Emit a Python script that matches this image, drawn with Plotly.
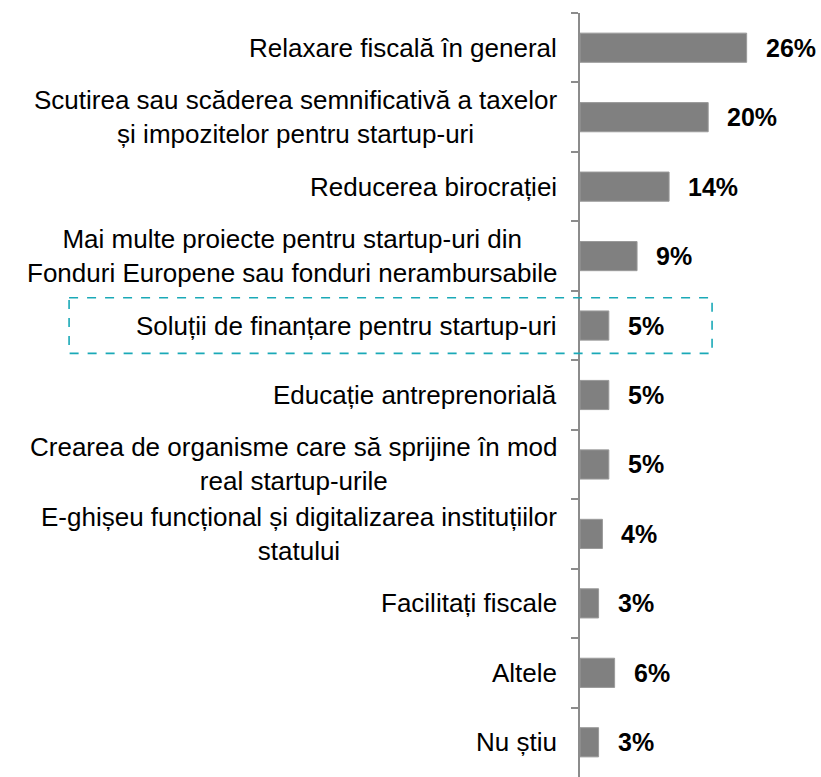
import plotly.graph_objects as go

#===========================================================================================================#

categories = [
    "Relaxare fiscală în general",
    "Scutirea sau scăderea semnificativă a taxelor<br>și impozitelor pentru startup-uri",
    "Reducerea birocrației",
    "Mai multe proiecte pentru startup-uri din<br>Fonduri Europene sau fonduri nerambursabile",
    "Soluții de finanțare pentru startup-uri",
    "Educație antreprenorială",
    "Crearea de organisme care să sprijine în mod<br>real startup-urile",
    "E-ghișeu funcțional și digitalizarea instituțiilor<br>statului",
    "Facilitați fiscale",
    "Altele",
    "Nu știu",
]
values = [26.0, 20.0, 13.9, 8.9, 4.5, 4.5, 4.5, 3.5, 2.9, 5.4, 2.9]
value_labels = ["26%", "20%", "14%", "9%", "5%", "5%", "5%", "4%", "3%", "6%", "3%"]
highlight = "Soluții de finanțare pentru startup-uri"

#===========================================================================================================#

keys = [c.replace("<br>", " ") for c in categories]

fig = go.Figure(go.Bar(x=values, y=keys, orientation='h',
                       marker=dict(color='#808080', line=dict(color='#9a9a9a', width=1))))

# category labels, centred lines, right edge next to the axis
for k, c in zip(keys, categories):
    fig.add_annotation(x=0, xref='paper', y=k, yref='y', text=c, showarrow=False,
                       xanchor='right', align='center', xshift=-21,
                       font=dict(family='Arial, Liberation Sans', size=26, color='#000000'))

# value labels
for k, v, t in zip(keys, values, value_labels):
    fig.add_annotation(x=v, xref='x', y=k, yref='y', text='<b>' + t + '</b>', showarrow=False,
                       xanchor='left', xshift=17,
                       font=dict(family='Arial, Liberation Sans', size=25, color='#000000'))

# dashed box round the highlighted row
hi = keys.index(highlight)
fig.add_shape(type='rect', xref='paper', yref='y', x0=-2.12, x1=0.548, y0=hi - 0.4, y1=hi + 0.4,
              line=dict(color='#1aa9b7', width=1.6, dash='dash'), fillcolor='rgba(0,0,0,0)')

fig.update_layout(width=821, height=777, margin=dict(l=580, r=0, t=13, b=0),
                  plot_bgcolor='white', paper_bgcolor='white', showlegend=False, bargap=0.58,
                  xaxis=dict(range=[0, 37.6], visible=False),
                  yaxis=dict(autorange='reversed', categoryorder='array', categoryarray=keys,
                             showticklabels=False, showgrid=False, zeroline=False,
                             showline=True, linecolor='#8c8c8c', linewidth=1.5,
                             ticks='outside', tickson='boundaries', ticklen=7,
                             tickcolor='#8c8c8c', tickwidth=1.5))

# drop the default body margin so the figure fills the window exactly
fig.write_html("out.html", config={'displayModeBar': False},
               post_script="document.body.style.margin='0';")
